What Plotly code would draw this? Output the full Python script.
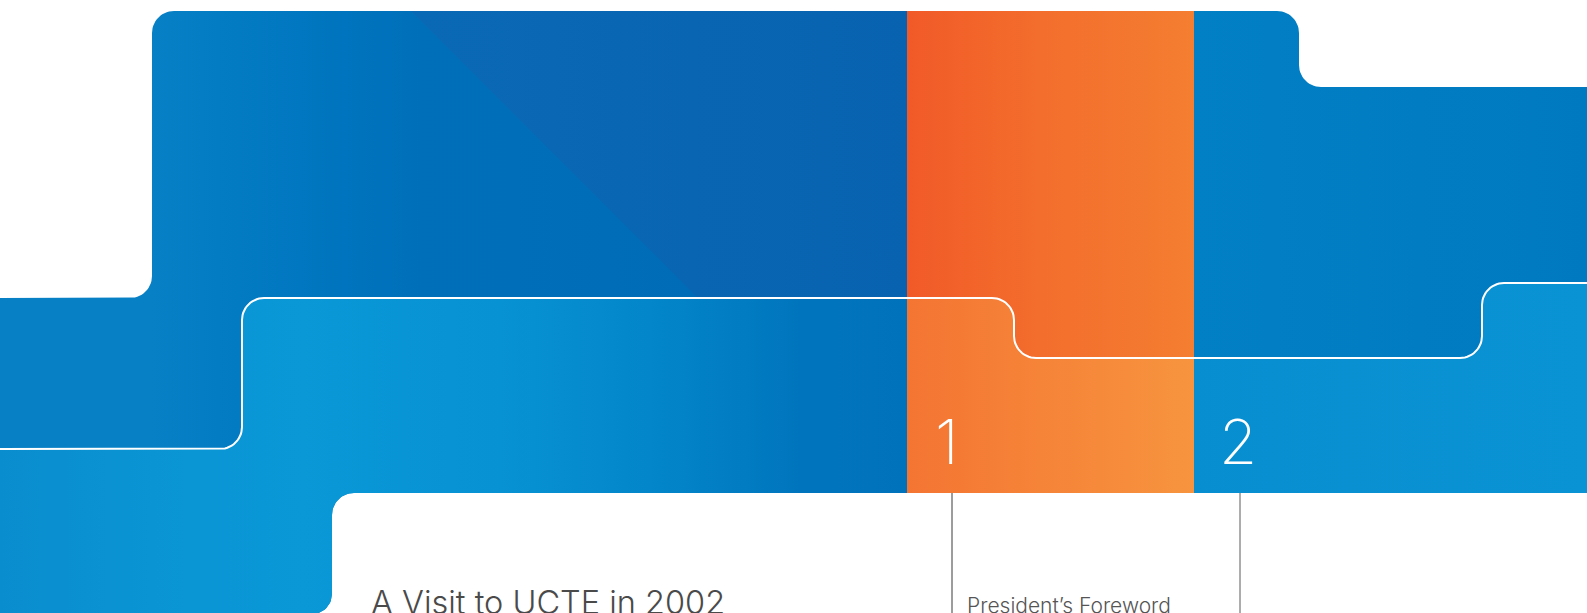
import math
import plotly.graph_objects as go

W, H = 1587, 613

# ---- geometry of the panels (pixel coordinates, y downwards) ----
OUTER_X = [0, 152, 152, 1299, 1299, 1587, 1587, 332, 332, 0]
OUTER_Y = [298, 298, 11, 11, 87, 87, 493, 493, 614, 614]
OUTER_R = [0, 22, 22, 22, 22, 0, 0, 22, 20, 0]

LINE_X = [0, 242, 242, 1014, 1014, 1482, 1482, 1587]
LINE_Y = [449, 449, 298, 298, 358, 358, 283, 283]
LINE_R = [0, 22, 22, 22, 22, 22, 22, 0]

LOWER_X = LINE_X + [1587, 332, 332, 0]
LOWER_Y = LINE_Y + [493, 493, 614, 614]
LOWER_R = LINE_R + [0, 22, 20, 0]

DIAG_X = [411, 907, 907, 698]
DIAG_Y = [11, 11, 298, 298]
DIAG_R = [0, 0, 0, 0]

OR_UP_X = [907, 1194, 1194, 1014, 1014, 907]
OR_UP_Y = [11, 11, 358, 358, 298, 298]
OR_UP_R = [0, 0, 0, 22, 22, 0]

OR_LO_X = [907, 1014, 1014, 1194, 1194, 907]
OR_LO_Y = [298, 298, 358, 358, 493, 493]
OR_LO_R = [0, 22, 22, 0, 0, 0]

RULE_X = [952, 1240]
RULE_Y0, RULE_Y1 = 493, 613

NUMBERS = ["1", "2"]
NUMBER_X = [947, 1238]
NUMBER_Y = 441

TITLE = "A Visit to UCTE in 2002"
SUBTITLE = "President\u2019s Foreword"

BLUE_UP = [[0, "#0780c5"], [0.096, "#0780c6"], [0.19, "#0077c0"], [0.265, "#006fba"],
           [0.44, "#006cb7"], [0.5715, "#006cb7"], [0.752, "#0280c5"], [1, "#0079c0"]]
BLUE_LO = [[0, "#0a8dce"], [0.095, "#0a94d4"], [0.19, "#0a98d7"], [0.315, "#0792d3"],
           [0.41, "#0386ca"], [0.504, "#0075bd"], [0.5715, "#0072bc"], [0.752, "#078ed0"],
           [1, "#0a93d4"]]
BLUE_DIAG = [[0, "#0a69b5"], [1, "#0862af"]]
ORANGE_UP = [[0, "#f15a28"], [0.45, "#f36d2c"], [1, "#f47e31"]]
ORANGE_LO = [[0, "#f47532"], [1, "#f7943f"]]


def rounded(xs, ys, rs, closed=True, n=14):
    ox, oy = [], []
    N = len(xs)
    for i in range(N):
        vx, vy, r = xs[i], ys[i], rs[i]
        if r == 0 or (not closed and (i == 0 or i == N - 1)):
            ox.append(vx); oy.append(vy)
            continue
        px, py = xs[(i - 1) % N], ys[(i - 1) % N]
        nx, ny = xs[(i + 1) % N], ys[(i + 1) % N]
        lu = math.hypot(px - vx, py - vy); lw = math.hypot(nx - vx, ny - vy)
        ux, uy = (px - vx) / lu, (py - vy) / lu
        wx, wy = (nx - vx) / lw, (ny - vy) / lw
        for k in range(n + 1):
            t = (math.pi / 2) * k / n
            a = r * (1 - math.sin(t)); b = r * (1 - math.cos(t))
            ox.append(vx + ux * a + wx * b)
            oy.append(vy + uy * a + wy * b)
    if closed:
        ox.append(ox[0]); oy.append(oy[0])
    return ox, oy


fig = go.Figure()


def panel(xs, ys, rs, scale, start, stop):
    x, y = rounded(xs, ys, rs)
    fig.add_trace(go.Scatter(
        x=x, y=y, mode="lines", fill="toself", line=dict(width=0),
        fillgradient=dict(type="horizontal", colorscale=scale, start=start, stop=stop),
        hoverinfo="skip", showlegend=False))


panel(OUTER_X, OUTER_Y, OUTER_R, BLUE_UP, 0, W)
panel(DIAG_X, DIAG_Y, DIAG_R, BLUE_DIAG, 411, 907)
panel(LOWER_X, LOWER_Y, LOWER_R, BLUE_LO, 0, W)
panel(OR_UP_X, OR_UP_Y, OR_UP_R, ORANGE_UP, 907, 1194)
panel(OR_LO_X, OR_LO_Y, OR_LO_R, ORANGE_LO, 907, 1194)

lx, ly = rounded(LINE_X, LINE_Y, LINE_R, closed=False)
fig.add_trace(go.Scatter(x=lx, y=ly, mode="lines", line=dict(color="white", width=2),
                         hoverinfo="skip", showlegend=False))

for rx, col in zip(RULE_X, ["#3a3a3a", "#5a5a5a"]):
    fig.add_trace(go.Scatter(x=[rx, rx], y=[RULE_Y0, RULE_Y1], mode="lines",
                             line=dict(color=col, width=1), hoverinfo="skip", showlegend=False))

for t, x in zip(NUMBERS, NUMBER_X):
    fig.add_annotation(x=x, y=NUMBER_Y, text=t, showarrow=False, xanchor="center", yanchor="middle",
                       font=dict(family="Inter", size=62, color="white", weight=200))

fig.add_annotation(x=369, y=602, text=TITLE, showarrow=False, xanchor="left", yanchor="middle",
                   font=dict(family="Inter", size=32.5, color="#4a4a4a", weight=300))
fig.add_annotation(x=965, y=605, text=SUBTITLE, showarrow=False, xanchor="left", yanchor="middle",
                   font=dict(family="Inter", size=21, color="#555555", weight=300))

fig.update_layout(
    width=W, height=H, margin=dict(l=0, r=0, t=0, b=0),
    paper_bgcolor="white", plot_bgcolor="white", showlegend=False,
    xaxis=dict(range=[0, W], visible=False, fixedrange=True),
    yaxis=dict(range=[H, 0], visible=False, fixedrange=True),
)

fig.write_html("out.html", config={"displayModeBar": False},
               post_script="document.body.style.margin='0';document.body.style.overflow='hidden';")
